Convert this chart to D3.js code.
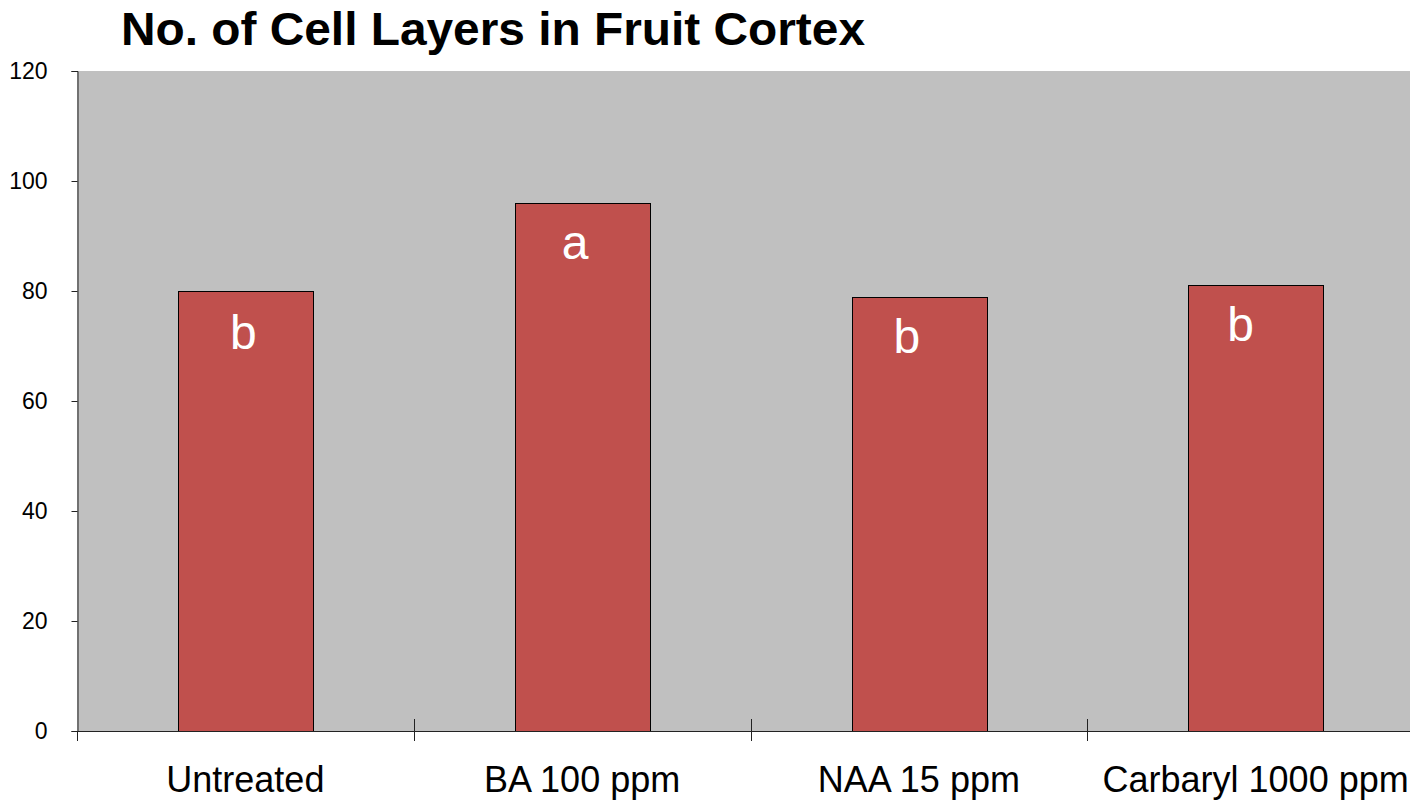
<!DOCTYPE html>
<head>
<meta charset="utf-8">
<style>
body { margin: 0; background: #fff; }
text { font-family: "Liberation Sans", Arial, sans-serif; }
</style>
</head>
<body>
<script src="https://cdn.jsdelivr.net/npm/d3@7"></script>
<script>
(function() {
	var categories = ["Untreated", "BA 100 ppm", "NAA 15 ppm", "Carbaryl 1000 ppm"],
		values = [80, 96, 79, 81],
		letters = ["b", "a", "b", "b"],
		yTicks = [0, 20, 40, 60, 80, 100, 120];

	var W = 1410, H = 801,
		x0 = 77, x1 = 1424,
		y0 = 731, y1 = 71,
		// letters were placed by hand in the original, a bit left of centre
		letterDx = [-2, -7, -12, -15],
		letterDy = [58, 56, 56, 55];

	var sx = d3.scaleBand()
		.domain(categories)
		.range([x0, x1])
		.paddingInner(0.6)
		.paddingOuter(0.3);

	var sy = d3.scaleLinear()
		.domain([0, 120])
		.range([y0, y1]);

	var svg = d3.select("body").append("svg")
		.attr("width", W)
		.attr("height", H);

	// plot area
	svg.append("rect")
		.attr("x", x0).attr("y", y1)
		.attr("width", x1 - x0).attr("height", y0 - y1)
		.attr("fill", "#c0c0c0");

	// bars
	svg.selectAll(".bar")
		.data(values)
		.enter().append("rect")
		.attr("class", "bar")
		.attr("x", function(d, i) { return Math.round(sx(categories[i])) + 0.5; })
		.attr("y", function(d) { return Math.round(sy(d)) + 0.5; })
		.attr("width", Math.round(sx.bandwidth()))
		.attr("height", function(d) { return y0 - Math.round(sy(d)); })
		.attr("fill", "#c0504d")
		.attr("stroke", "#000")
		.attr("stroke-width", 1);

	// significance letters
	svg.selectAll(".letter")
		.data(letters)
		.enter().append("text")
		.attr("x", function(d, i) { return sx(categories[i]) + sx.bandwidth() / 2 + letterDx[i]; })
		.attr("y", function(d, i) { return sy(values[i]) + letterDy[i]; })
		.attr("text-anchor", "middle")
		.attr("fill", "#fff")
		.style("font-size", "48px")
		.text(function(d) { return d; });

	// y axis
	var yAxis = d3.axisLeft(sy)
		.tickValues(yTicks)
		.tickSize(6)
		.tickPadding(24);
	var gy = svg.append("g")
		.attr("transform", "translate(" + (x0 + 0.5) + ",0)")
		.call(yAxis);
	gy.select(".domain").attr("stroke", "#222");
	gy.selectAll(".tick line").attr("stroke", "#222");
	gy.selectAll(".tick text")
		.style("font-size", "23px")
		.attr("fill", "#000");

	// x axis
	var bounds = categories.map(function(c) { return sx(c) - sx.step() * 0.3; });
	svg.append("line")
		.attr("x1", x0).attr("x2", W)
		.attr("y1", y0 + 0.5).attr("y2", y0 + 0.5)
		.attr("stroke", "#222");
	svg.selectAll(".xtick")
		.data(bounds)
		.enter().append("line")
		.attr("x1", function(d) { return Math.round(d) + 0.5; })
		.attr("x2", function(d) { return Math.round(d) + 0.5; })
		.attr("y1", function(d, i) { return i === 0 ? y0 : y0 - 12; })
		.attr("y2", y0 + 10)
		.attr("stroke", "#222");

	svg.selectAll(".xlabel")
		.data(categories)
		.enter().append("text")
		.attr("x", function(d) { return sx(d) + sx.bandwidth() / 2; })
		.attr("y", 792)
		.attr("text-anchor", "middle")
		.style("font-size", "36px")
		.attr("fill", "#000")
		.text(function(d) { return d; });

	// title
	svg.append("text")
		.attr("x", 121)
		.attr("y", 45)
		.attr("textLength", 744)
		.attr("lengthAdjust", "spacingAndGlyphs")
		.style("font-size", "46px")
		.style("font-weight", "bold")
		.attr("fill", "#000")
		.text("No. of Cell Layers in Fruit Cortex");
})();
</script>
</body>
